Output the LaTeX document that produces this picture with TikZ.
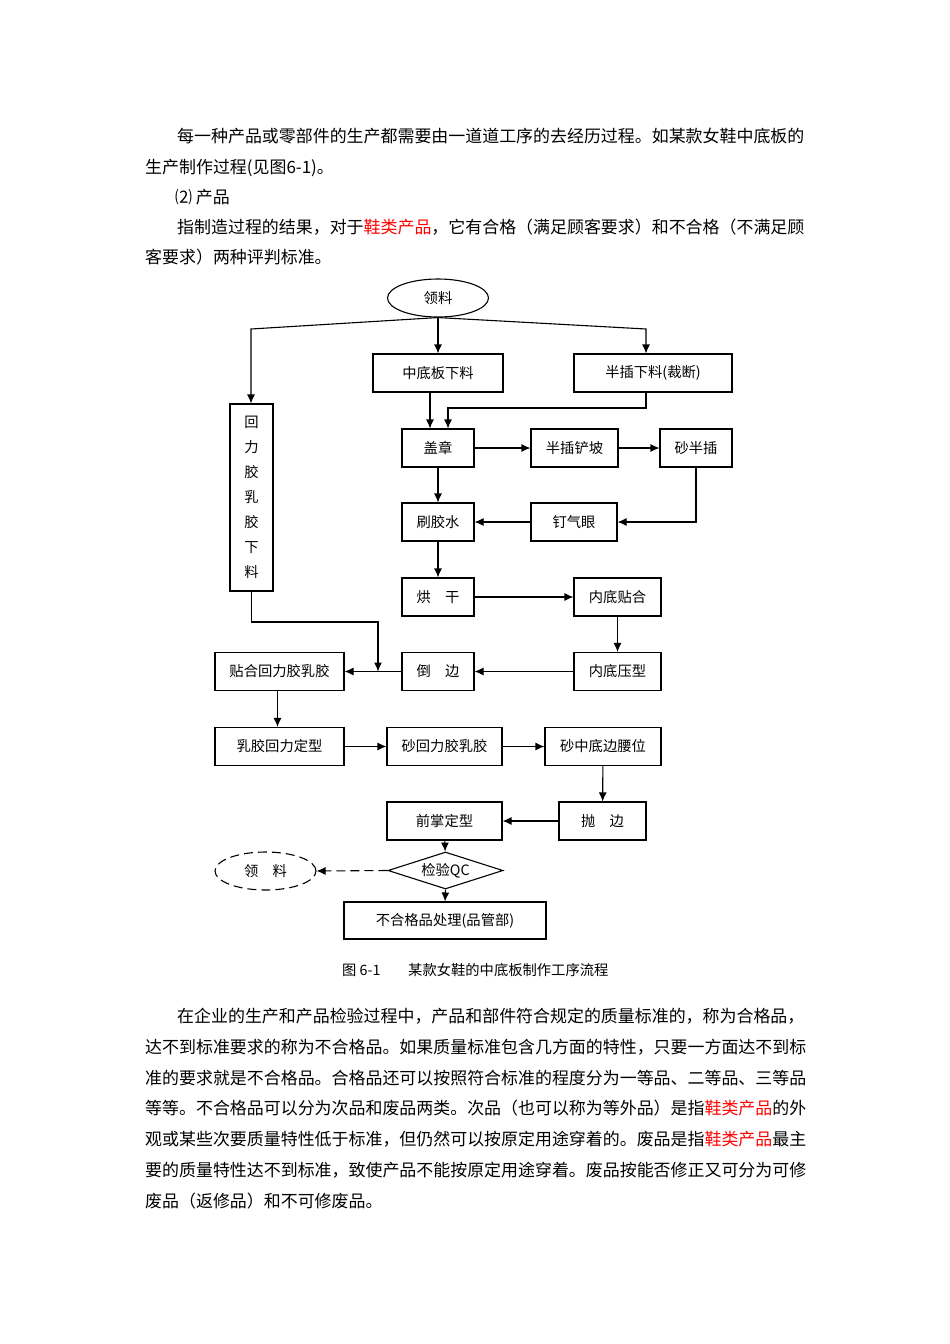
\documentclass[tikz,border=0pt]{standalone}
\usepackage{fontspec}
\setmainfont{Noto Sans CJK SC}
\usetikzlibrary{shapes.geometric,arrows.meta}
\tikzset{
  body/.style={anchor=west,inner sep=0pt,font=\fontsize{16.95}{20}\selectfont},
  pbox/.style={draw,line width=1.1pt,minimum height=38pt,inner sep=0pt,font=\fontsize{14.3}{14}\selectfont},
  arr/.style={line width=1.1pt,-{Latex[length=9pt,width=8pt]}},
  ln/.style={line width=1.1pt},
  dsh/.style={dash pattern=on 9pt off 5pt}
}
\begin{document}
\begin{tikzpicture}[x=1pt,y=-1pt]
\useasboundingbox (0,0) rectangle (950,1344);
% ---- paragraph text (top)
\node[body] (t1) at (177,136) {每一种产品或零部件的生产都需要由一道道工序的去经历过程。如某款女鞋中底板的};
\node[body] (t2) at (145,168) {生产制作过程(见图6-1)。};
\node[body] (t3) at (175,197) {⑵ 产品};
\node[body] (t4) at (177,227) {指制造过程的结果，对于\textcolor{red}{鞋类产品}，它有合格（满足顾客要求）和不合格（不满足顾};
\node[body] (t5) at (145,257) {客要求）两种评判标准。};
% ---- flowchart nodes
\node[draw,line width=1.1pt,ellipse,minimum width=101pt,minimum height=38pt,inner sep=0pt,font=\fontsize{14.3}{14}\selectfont] (ll) at (438,298) {领料};
\node[pbox,minimum width=130pt] (zd) at (438,373) {中底板下料};
\node[pbox,minimum width=158pt] (bc) at (653,373) {半插下料(裁断)};
\node[pbox,minimum width=43pt,minimum height=187pt,align=center,font=\fontsize{14.3}{25}\selectfont] (hl) at (251.5,497.5) {回\\力\\胶\\乳\\胶\\下\\料};
\node[pbox,minimum width=72pt] (gz) at (438,448) {盖章};
\node[pbox,minimum width=87pt] (cp) at (574.5,448) {半插铲坡};
\node[pbox,minimum width=72pt] (sb) at (696,448) {砂半插};
\node[pbox,minimum width=72pt] (sj) at (438,522) {刷胶水};
\node[pbox,minimum width=86pt] (dq) at (574,522) {钉气眼};
\node[pbox,minimum width=72pt] (hg) at (438,597) {烘\hspace{1em}干};
\node[pbox,minimum width=87pt] (nt) at (617.5,597) {内底贴合};
\node[pbox,minimum width=72pt] (db) at (438,671.5) {倒\hspace{1em}边};
\node[pbox,minimum width=87pt] (ny) at (617.5,671.5) {内底压型};
\node[pbox,minimum width=129pt] (th) at (279.5,671.5) {贴合回力胶乳胶};
\node[pbox,minimum width=129pt] (rj) at (279.5,746.5) {乳胶回力定型};
\node[pbox,minimum width=115pt] (sh) at (444.5,746.5) {砂回力胶乳胶};
\node[pbox,minimum width=116pt] (sz) at (603,746.5) {砂中底边腰位};
\node[pbox,minimum width=87pt] (pb) at (602.5,821) {抛\hspace{1em}边};
\node[pbox,minimum width=115pt] (qz) at (444.5,821) {前掌定型};
\node[draw,line width=1.1pt,diamond,aspect=3,minimum width=115pt,minimum height=37pt,inner sep=0pt,font=\fontsize{14.3}{14}\selectfont] (qc) at (445.5,870.5) {检验QC};
\node[draw,line width=1.1pt,dsh,ellipse,minimum width=101pt,minimum height=38pt,inner sep=0pt,font=\fontsize{14.3}{14}\selectfont] (lq) at (265.5,871) {领\hspace{1em}料};
\node[pbox,minimum width=202pt,minimum height=37pt] (bh) at (445,920.5) {不合格品处理(品管部)};
% ---- junction coordinates
\coordinate (bl) at (251,329);
\coordinate (br) at (646,329);
\coordinate (j1) at (448,408);
\coordinate (j2) at (378,622);
% ---- connectors
\draw[arr] (ll.south) -- (bl) -- (bl |- hl.north);
\draw[arr] (ll.south) -- (zd.north);
\draw[arr] (ll.south) -- (br) -- (br |- bc.north);
\draw[arr] ([xshift=-8pt]zd.south) -- ([xshift=-8pt]gz.north);
\draw[arr] (br |- bc.south) |- (j1) -- (j1 |- gz.north);
\draw[arr] (gz) -- (cp);
\draw[arr] (cp) -- (sb);
\draw[arr] (sb.south) |- (dq.east);
\draw[arr] (dq) -- (sj);
\draw[arr] (gz) -- (sj);
\draw[arr] (sj) -- (hg);
\draw[arr] (hg) -- (nt);
\draw[arr] (nt) -- (ny);
\draw[arr] (ny) -- (db);
\draw[arr] (db) -- (th);
\draw[arr] (hl.south) |- (j2) -- (j2 |- th.east);
\draw[arr] ([xshift=-2pt]th.south) -- ([xshift=-2pt]rj.north);
\draw[arr] (rj) -- (sh);
\draw[arr] (sh) -- (sz);
\draw[arr] (sz) -- (pb);
\draw[arr] (pb) -- (qz);
\draw[arr] (qz) -- (qc);
\draw[arr,dsh] (qc.west) -- (lq.east);
\draw[arr] (qc.south) -- (bh.north);
% ---- caption
\node[anchor=west,inner sep=0pt,font=\fontsize{14.3}{14}\selectfont] (cap1) at (342,970) {图 6-1};
\node[anchor=west,inner sep=0pt,font=\fontsize{14.3}{14}\selectfont] (cap2) at (408,970) {某款女鞋的中底板制作工序流程};
% ---- paragraph text (bottom)
\node[body] (b1) at (177,1016) {在企业的生产和产品检验过程中，产品和部件符合规定的质量标准的，称为合格品，};
\node[body] (b2) at (145,1047) {达不到标准要求的称为不合格品。如果质量标准包含几方面的特性，只要一方面达不到标};
\node[body] (b3) at (145,1078) {准的要求就是不合格品。合格品还可以按照符合标准的程度分为一等品、二等品、三等品};
\node[body] (b4) at (145,1108) {等等。不合格品可以分为次品和废品两类。次品（也可以称为等外品）是指\textcolor{red}{鞋类产品}的外};
\node[body] (b5) at (145,1139) {观或某些次要质量特性低于标准，但仍然可以按原定用途穿着的。废品是指\textcolor{red}{鞋类产品}最主};
\node[body] (b6) at (145,1170) {要的质量特性达不到标准，致使产品不能按原定用途穿着。废品按能否修正又可分为可修};
\node[body] (b7) at (145,1201) {废品（返修品）和不可修废品。};
\end{tikzpicture}
\end{document}
